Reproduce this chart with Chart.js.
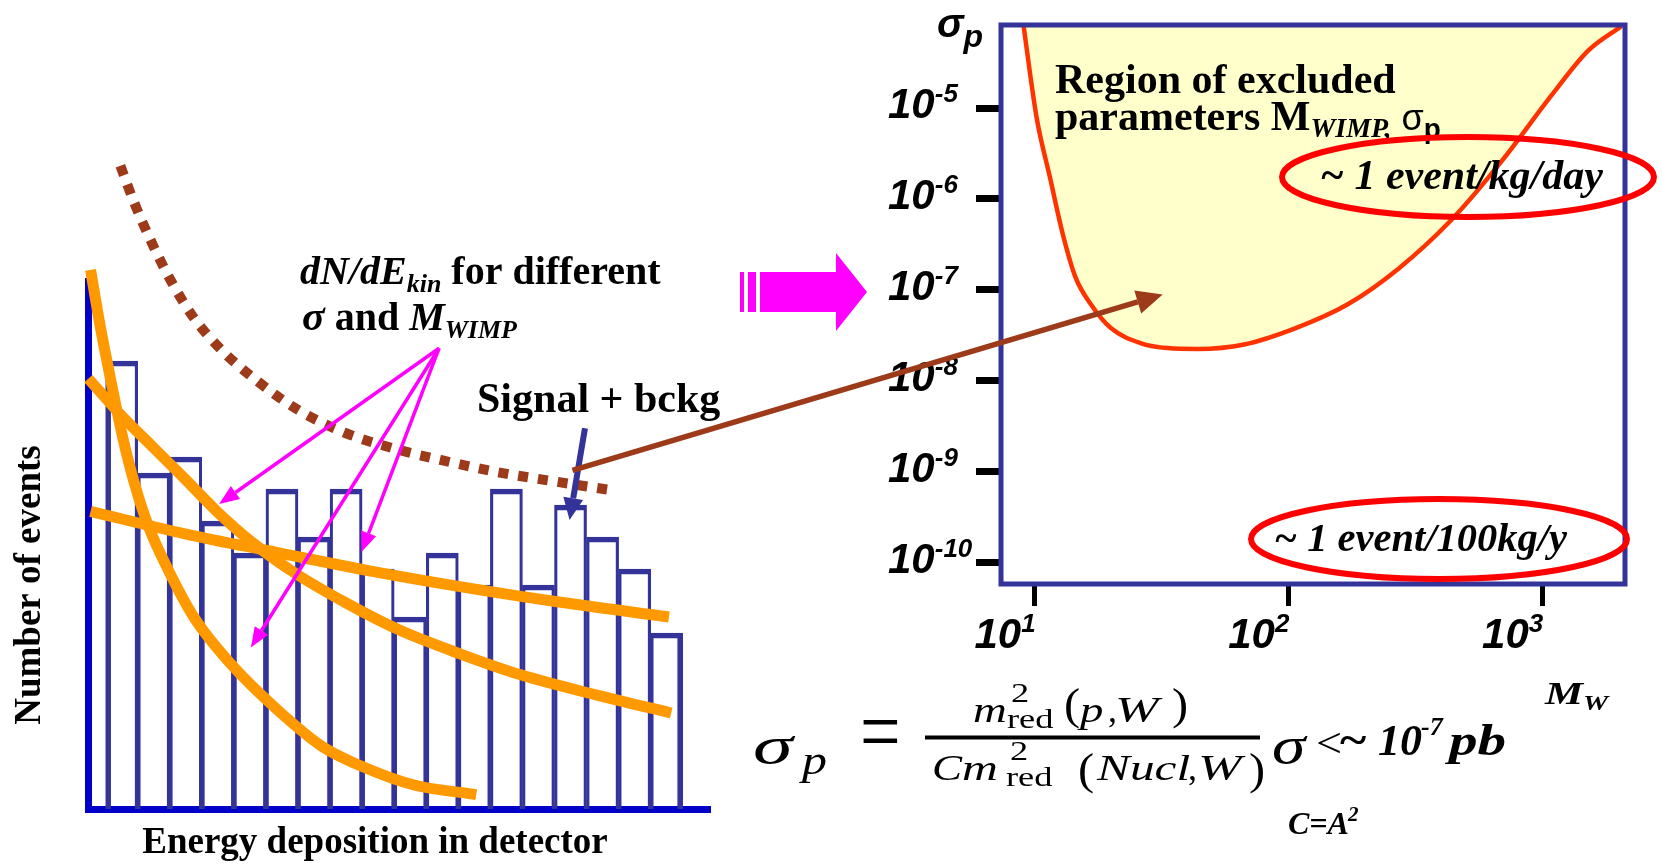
<!DOCTYPE html>
<html>
<head>
<meta charset="utf-8">
<script src="https://cdn.jsdelivr.net/npm/chart.js@4.4.0/dist/chart.umd.min.js"></script>
<style>
  html, body { margin: 0; padding: 0; background: #fff; overflow: hidden; }
  #wrap { position: relative; width: 1662px; height: 864px; }
  canvas { position: absolute; left: 0; top: 0; }
</style>
</head>
<body>
<div id="wrap">
  <canvas id="histChart" width="1662" height="864"></canvas>
  <canvas id="limitChart" width="1662" height="864"></canvas>
</div>
<script>
const serif = '"Liberation Serif", "Times New Roman", serif';
const sans = '"Liberation Sans", Arial, sans-serif';

// ---- left panel: energy spectrum (arbitrary units) ----
const binCentres  = [1, 2, 3, 4, 5, 6, 7, 8, 9, 10, 11, 12, 13, 14, 15, 16, 17, 18];
const eventCounts = [28, 21, 22, 18, 16, 20, 17, 20, 15, 12, 16, 14, 20, 14, 19, 17, 15, 11];

// light WIMP, steep spectrum
const steepE = [0.03, 0.31, 0.67, 1.03, 1.39, 1.82, 2.39, 3.25, 4.39, 5.83, 7.26, 8.69, 10.12, 12.06];
const steepN = [33.7, 30.4, 26.7, 23.25, 20.4, 17.75, 15.2, 12.0, 9.1, 6.25, 3.9, 2.5, 1.5, 0.9];
// medium
const midE = [-0.04, 0.96, 1.96, 2.97, 3.97, 5.11, 6.4, 7.98, 9.7, 11.55, 13.42, 15.85, 18.14];
const midN = [26.9, 24.66, 22.65, 20.64, 18.6, 16.6, 14.75, 12.9, 11.15, 9.7, 8.4, 7.1, 6.0];
// heavy WIMP, flat spectrum
const flatE = [0.03, 2.97, 5.83, 8.69, 11.55, 14.42, 18.07];
const flatN = [18.6, 17.2, 16.04, 14.9, 13.9, 13.0, 12.0];
// signal + background envelope
const sumE = [0.96, 1.39, 1.96, 2.54, 3.25, 4.11, 5.26, 6.54, 7.98, 9.55, 10.98, 12.7, 14.42, 16.36];
const sumN = [40.2, 37.9, 35.3, 33.0, 30.7, 28.7, 26.7, 24.9, 23.5, 22.5, 21.8, 21.06, 20.5, 19.9];

// ---- right panel: excluded region in (M_WIMP, sigma_p) ----
const massGeV    = [9.03, 10.2, 11.5, 12.9, 14.5, 16.7, 20, 26.5, 33.5, 44, 67, 107, 171, 271, 436, 691, 1097, 1520, 2050];
const sigmaLimit = [8.5e-5, 7.8e-6, 1.74e-6, 4.2e-7, 1.38e-7, 6.9e-8, 3.8e-8, 2.57e-8, 2.29e-8, 2.24e-8, 2.51e-8, 3.8e-8, 6.9e-8, 1.7e-7, 5.75e-7, 2.57e-6, 1.41e-5, 4.27e-5, 7.9e-5];
const massTicks  = [10, 100, 1000];
const sigmaTicks = [1e-5, 1e-6, 1e-7, 1e-8, 1e-9, 1e-10];

const pts = (xs, ys) => xs.map((x, i) => ({ x: x, y: ys[i] }));

function runs(ctx, x, y, parts) {
  for (const [t, font, dy] of parts) {
    ctx.font = font;
    ctx.fillText(t, x, y + (dy || 0));
    x += ctx.measureText(t).width;
  }
  return x;
}

// one piece of text, optionally stretched like the original slide
function put(ctx, t, font, x, y, sx, sy) {
  ctx.save();
  ctx.translate(x, y);
  ctx.scale(sx || 1, sy || 1);
  ctx.font = font;
  ctx.fillText(t, 0, 0);
  ctx.restore();
}

function arrow(ctx, x1, y1, x2, y2, color, lw, headLen, headW) {
  const a = Math.atan2(y2 - y1, x2 - x1);
  const bx = x2 - headLen * Math.cos(a), by = y2 - headLen * Math.sin(a);
  ctx.save();
  ctx.strokeStyle = color;
  ctx.fillStyle = color;
  ctx.lineWidth = lw;
  ctx.beginPath();
  ctx.moveTo(x1, y1);
  ctx.lineTo(bx, by);
  ctx.stroke();
  ctx.beginPath();
  ctx.moveTo(x2, y2);
  ctx.lineTo(bx + headW / 2 * Math.sin(a), by - headW / 2 * Math.cos(a));
  ctx.lineTo(bx - headW / 2 * Math.sin(a), by + headW / 2 * Math.cos(a));
  ctx.closePath();
  ctx.fill();
  ctx.restore();
}

const lastBin = binCentres.length - 1;

const histNotes = {
  id: 'histNotes',
  afterDatasetsDraw(chart) {
    const { ctx, scales: { x, y } } = chart;
    const px = (u, v) => [x.getPixelForValue(u), y.getPixelForValue(v)];

    // magenta pointers to the three spectra
    const from = px(10.9, 28.8);
    [[4.04, 19.06], [5.03, 10.1], [8.48, 16.06]].forEach(t => {
      const to = px(t[0], t[1]);
      arrow(ctx, from[0], from[1], to[0], to[1], '#ff00ff', 3.5, 20, 16);
    });
    // pointer to the data
    const a = px(15.45, 23.8), b = px(14.97, 18.06);
    arrow(ctx, a[0], a[1], b[0], b[1], '#333399', 6, 22, 20);

    ctx.save();
    ctx.fillStyle = '#000';
    runs(ctx, 300, 284, [
      ['dN/dE', 'italic bold 40px ' + serif],
      ['kin', 'italic bold 26px ' + serif, 8],
      [' for different', 'bold 40px ' + serif]
    ]);
    runs(ctx, 302, 330, [
      ['\u03c3', 'italic bold 42px ' + serif],
      [' and ', 'bold 40px ' + serif],
      ['M', 'italic bold 40px ' + serif],
      ['WIMP', 'italic bold 26px ' + serif, 8]
    ]);
    runs(ctx, 477, 412, [['Signal + bckg', 'bold 42px ' + serif]]);

    ctx.font = 'bold 37px ' + serif;
    ctx.textAlign = 'center';
    ctx.fillText('Energy deposition in detector', 375, 853);
    ctx.translate(40, 585);
    ctx.rotate(-Math.PI / 2);
    ctx.fillText('Number of events', 0, 0);
    ctx.restore();
  }
};

const histChart = new Chart(document.getElementById('histChart'), {
  type: 'bar',
  data: {
    datasets: [
      { type: 'line', data: pts(sumE, sumN), borderColor: '#9c3a19', borderWidth: 10, borderDash: [10, 10],
        pointRadius: 0, cubicInterpolationMode: 'monotone', clip: false, order: 1 },
      { type: 'line', data: pts(flatE, flatN), borderColor: '#ff9900', borderWidth: 11,
        pointRadius: 0, cubicInterpolationMode: 'monotone', clip: false, order: 2 },
      { type: 'line', data: pts(midE, midN), borderColor: '#ff9900', borderWidth: 11,
        pointRadius: 0, cubicInterpolationMode: 'monotone', clip: false, order: 2 },
      { type: 'line', data: pts(steepE, steepN), borderColor: '#ff9900', borderWidth: 11,
        pointRadius: 0, cubicInterpolationMode: 'monotone', clip: false, order: 2 },
      { type: 'bar', data: pts(binCentres, eventCounts), backgroundColor: 'rgba(255,255,255,0)', borderColor: '#333399',
        borderWidth: c => ({ top: 5, bottom: 0, left: c.dataIndex === 0 ? 5 : 2.5, right: c.dataIndex === lastBin ? 5 : 2.5 }),
        barPercentage: 1, categoryPercentage: 1, order: 5 }
    ]
  },
  options: {
    responsive: false,
    animation: false,
    devicePixelRatio: 1,
    events: [],
    layout: { padding: { left: 88, right: 952, top: 281, bottom: 55 } },
    plugins: { legend: { display: false }, tooltip: { enabled: false } },
    scales: {
      x: { type: 'linear', min: -0.05, max: 19.35, offset: false,
           grid: { display: false, drawTicks: false }, ticks: { display: false },
           border: { display: true, color: '#0000c8', width: 7 } },
      y: { type: 'linear', min: 0, max: 33,
           grid: { display: false, drawTicks: false }, ticks: { display: false },
           border: { display: true, color: '#0000c8', width: 7 } }
    }
  },
  plugins: [histNotes]
});

const limitNotes = {
  id: 'limitNotes',
  afterDatasetsDraw(chart) {
    const { ctx, chartArea: ca, scales: { x, y } } = chart;
    ctx.save();
    // frame
    ctx.strokeStyle = '#333399';
    ctx.lineWidth = 5;
    ctx.strokeRect(ca.left, ca.top, ca.right - ca.left, ca.bottom - ca.top);

    ctx.fillStyle = '#000';
    runs(ctx, 1055, 93, [['Region of excluded', 'bold 42px ' + serif]]);
    runs(ctx, 1055, 130, [
      ['parameters M', 'bold 42px ' + serif],
      ['WIMP,', 'italic bold 28px ' + serif, 7],
      [' \u03c3', '36px ' + sans],
      ['p', 'bold 28px ' + sans, 8]
    ]);
    runs(ctx, 1320, 189, [['~ 1 event/kg/day', 'italic bold 42px ' + serif]]);
    runs(ctx, 1274, 551, [['~ 1 event/100kg/y', 'italic bold 40.5px ' + serif]]);

    ctx.strokeStyle = '#ff0000';
    ctx.lineWidth = 6;
    ctx.beginPath();
    ctx.ellipse(1468, 177, 186, 40, 0, 0, Math.PI * 2);
    ctx.stroke();
    ctx.beginPath();
    ctx.ellipse(1439, 539, 188, 40, 0, 0, Math.PI * 2);
    ctx.stroke();

    // tick labels 10^n
    y.ticks.forEach(t => {
      const py = y.getPixelForValue(t.value);
      const e = Math.round(Math.log10(t.value));
      runs(ctx, 888, py + 10, [['10', 'italic bold 42px ' + sans], ['-' + (-e), 'italic bold 26px ' + sans, -16]]);
    });
    x.ticks.forEach(t => {
      const pxl = x.getPixelForValue(t.value);
      const e = Math.round(Math.log10(t.value));
      runs(ctx, pxl - 60, 648, [['10', 'italic bold 42px ' + sans], [String(e), 'italic bold 26px ' + sans, -16]]);
    });

    // axis names
    runs(ctx, 937, 37, [['\u03c3', 'italic bold 40px ' + sans], ['p', 'italic bold 32px ' + sans, 10]]);
    put(ctx, 'M', 'italic bold 31px ' + serif, 1545, 704, 1.38);
    put(ctx, 'W', 'italic bold 21px ' + serif, 1583, 710, 1.35);

    // formula, drawn wide like the slide
    const it = s => 'italic ' + s + 'px ' + serif;
    const rm = s => s + 'px ' + serif;
    put(ctx, '\u03c3', it(52), 753, 763, 1.55);
    put(ctx, 'p', it(40), 802, 774, 1.25);
    put(ctx, '=', rm(60), 860, 762, 1.2, 1.5);
    ctx.fillRect(925, 735.5, 335, 4);
    // numerator
    put(ctx, 'm', it(36), 973, 722, 1.3);
    put(ctx, '2', rm(28), 1011, 702, 1.3);
    put(ctx, 'red', rm(28), 1007, 728, 1.3);
    put(ctx, '(', rm(44), 1064, 719, 1.1);
    put(ctx, 'p', it(36), 1080, 722, 1.3);
    put(ctx, ',', rm(36), 1108, 722);
    put(ctx, 'W', it(36), 1115, 722, 1.45);
    put(ctx, ')', rm(44), 1172, 719, 1.1);
    // denominator
    put(ctx, 'C', it(36), 932, 780, 1.25);
    put(ctx, 'm', it(36), 962, 780, 1.38);
    put(ctx, '2', rm(28), 1010, 760, 1.3);
    put(ctx, 'red', rm(28), 1006, 786, 1.3);
    put(ctx, '(', rm(44), 1078, 784, 1.1);
    put(ctx, 'Nucl', it(36), 1097, 780, 1.37);
    put(ctx, ',', rm(36), 1188, 780);
    put(ctx, 'W', it(36), 1198, 780, 1.45);
    put(ctx, ')', rm(44), 1249, 784, 1.1);
    // limit
    put(ctx, '\u03c3', it(52), 1272, 763, 1.3);
    put(ctx, '<', rm(42), 1316, 757, 1.1);
    put(ctx, '~', 'bold 42px ' + serif, 1340, 754, 1.2);
    put(ctx, '10', 'italic bold 44px ' + serif, 1378, 755);
    put(ctx, '-7', 'italic bold 26px ' + serif, 1421, 735);
    put(ctx, 'pb', 'italic bold 44px ' + serif, 1449, 755, 1.3);
    put(ctx, 'C=A', 'italic bold 32px ' + serif, 1288, 834);
    put(ctx, '2', 'italic bold 21px ' + serif, 1348, 821);

    // big magenta arrow between panels
    ctx.fillStyle = '#ff00ff';
    ctx.fillRect(740, 272, 4, 40);
    ctx.fillRect(748, 272, 8, 40);
    ctx.beginPath();
    ctx.moveTo(760, 272); ctx.lineTo(836, 272); ctx.lineTo(836, 253); ctx.lineTo(867, 292);
    ctx.lineTo(836, 331); ctx.lineTo(836, 312); ctx.lineTo(760, 312);
    ctx.closePath();
    ctx.fill();

    // brown arrow from the measured spectrum to the excluded region
    const hx = histChart.scales.x, hy = histChart.scales.y;
    arrow(ctx, hx.getPixelForValue(15.06), hy.getPixelForValue(21.16),
          x.getPixelForValue(32), y.getPixelForValue(8.9e-8), '#9c3a19', 5.5, 26, 24);
    ctx.restore();
  }
};

new Chart(document.getElementById('limitChart'), {
  type: 'line',
  data: {
    datasets: [{
      data: pts(massGeV, sigmaLimit),
      borderColor: '#ff3300',
      borderWidth: 4.5,
      backgroundColor: '#ffffcc',
      fill: 'end',
      pointRadius: 0,
      cubicInterpolationMode: 'monotone'
    }]
  },
  options: {
    responsive: false,
    animation: false,
    devicePixelRatio: 1,
    events: [],
    layout: { padding: { left: 976, right: 37, top: 25, bottom: 258 } },
    plugins: { legend: { display: false }, tooltip: { enabled: false } },
    scales: {
      x: { type: 'logarithmic', min: 7.38, max: 2123,
           afterBuildTicks: s => { s.ticks = massTicks.map(v => ({ value: v })); },
           grid: { display: true, drawOnChartArea: false, drawTicks: true, tickLength: 22, tickWidth: 5, tickColor: '#000' },
           ticks: { display: false }, border: { display: false } },
      y: { type: 'logarithmic', min: 5.83e-11, max: 8.18e-5,
           afterBuildTicks: s => { s.ticks = sigmaTicks.map(v => ({ value: v })); },
           grid: { display: true, drawOnChartArea: false, drawTicks: true, tickLength: 25, tickWidth: 7, tickColor: '#000' },
           ticks: { display: false }, border: { display: false } }
    }
  },
  plugins: [limitNotes]
});
</script>
</body>
</html>
